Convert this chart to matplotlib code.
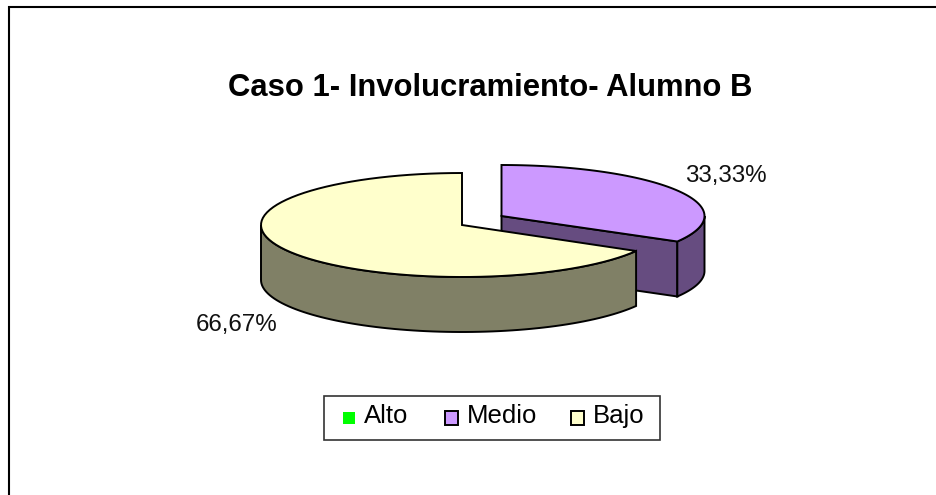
import numpy as np
import matplotlib
matplotlib.use("Agg")
from matplotlib import pyplot as plt
from matplotlib.patches import Polygon, Rectangle

plt.rcParams['font.family'] = ['Liberation Sans', 'DejaVu Sans']

# Creating dataset
categories = ["Alto", "Medio", "Bajo"]
values = [0.0, 33.33, 66.67]
value_labels = ["33,33%", "66,67%"]
title = "Caso 1- Involucramiento- Alumno B"

colors = ["#00FF00", "#CC99FF", "#FFFFCC"]
dark_colors = ["#008000", "#664C80", "#808066"]

fig = plt.figure(figsize=(9.36, 4.95), dpi=100)
ax = fig.add_axes([0, 0, 1, 1])
ax.set_xlim(0, 936)
ax.set_ylim(495, 0)
ax.axis("off")

# chart frame, the right and bottom sides are cut off
ax.plot([9, 9, 936], [495, 7, 7], color="black", lw=1.5, solid_joinstyle="miter")


def arc(cx, cy, rx, ry, a0, a1):
    t = np.radians(np.linspace(a0, a1, 80))
    return np.column_stack([cx + rx * np.cos(t), cy - ry * np.sin(t)])


def slice_3d(cx, cy, rx, ry, depth, a0, a1, color, dark, z):
    # angles in degrees, a0 > a1, clockwise from the start angle
    top = arc(cx, cy, rx, ry, a0, a1)
    apex = np.array([cx, cy])
    shift = np.array([0, depth])

    # cut face at the end of the slice looks at the viewer on the right side
    end = top[-1]
    if np.sin(np.radians(a1)) < 0 and np.cos(np.radians(a1)) > 0:
        face = np.array([apex, end, end + shift, apex + shift])
        ax.add_patch(Polygon(face, fc=dark, ec="black", lw=1.4, zorder=z))

    # outer rim, only the part in the lower half shows
    if a0 > 180:
        rim = arc(cx, cy, rx, ry, a0, 180)
    else:
        rim = arc(cx, cy, rx, ry, 0, a1)
    rim = np.vstack([rim, rim[::-1] + shift])
    ax.add_patch(Polygon(rim, fc=dark, ec="black", lw=1.4, zorder=z + 0.1))

    ax.add_patch(Polygon(np.vstack([apex, top]), fc=color, ec="black", lw=1.4, zorder=z + 0.2))


# angles from the values, first slice starts at 12 o'clock going clockwise
total = sum(values)
sweeps = [v / total * 360 for v in values]
medio_start = 90 - sweeps[0]
medio_end = medio_start - sweeps[1]
bajo_end = medio_end - sweeps[2]

slice_3d(501.5, 216, 203, 51, 55, medio_start, medio_end, colors[1], dark_colors[1], 2)
slice_3d(462, 225, 201, 52, 55, medio_end + 360, bajo_end + 360, colors[2], dark_colors[2], 3)

ax.text(490, 88, title, fontsize=22.3, fontweight="bold", ha="center", va="center", color="black")
ax.text(725.5, 176, value_labels[0], fontsize=17.4, ha="center", va="center", color="#111111")
ax.text(236.5, 325, value_labels[1], fontsize=17.4, ha="center", va="center", color="#111111")

# legend
ax.add_patch(Rectangle((324, 396), 336, 44, fc="white", ec="#333333", lw=1.2, zorder=4))
ax.add_patch(Rectangle((343, 412), 12, 12, fc=colors[0], ec="none", zorder=5))
ax.add_patch(Rectangle((444.5, 411), 13, 14, fc=colors[1], ec="black", lw=1.4, zorder=5))
ax.add_patch(Rectangle((570.5, 411), 13, 14, fc=colors[2], ec="black", lw=1.4, zorder=5))
for x, name in zip([364, 467, 593], categories):
    ax.text(x, 423, name, fontsize=18.5, ha="left", va="baseline", color="black", zorder=5)

fig.savefig("out.png", dpi=100)
